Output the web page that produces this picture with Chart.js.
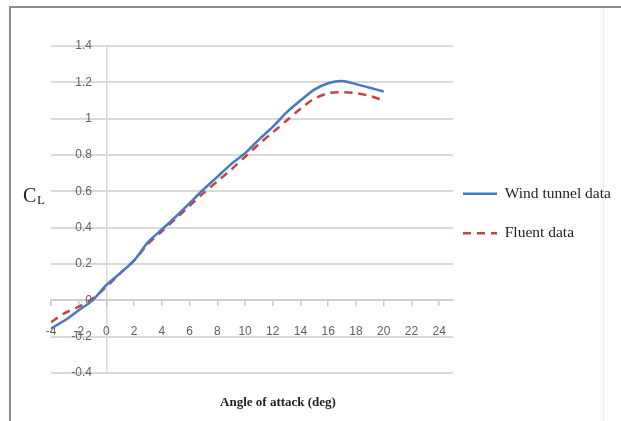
<!DOCTYPE html>
<html><head><meta charset="utf-8">
<script src="https://cdn.jsdelivr.net/npm/chart.js@4"></script>
<style>
html,body{margin:0;padding:0;background:#fff;}
#wrap{position:relative;width:621px;height:421px;overflow:hidden;}
#frame{position:absolute;left:9px;top:6px;width:595px;height:420px;border-left:2px solid #8a8a8a;border-top:2px solid #8a8a8a;border-right:1px solid #ececec;box-sizing:border-box;}
#topline{position:absolute;left:9px;top:6px;width:612px;height:2px;background:#8a8a8a;}
canvas{position:absolute;left:0;top:0;}
</style></head>
<body><div id="wrap"><div id="frame"></div><div id="topline"></div><canvas id="c" width="621" height="421"></canvas></div>
<script>
const angles     = [-4, -3, -2, -1, 0, 1, 2, 3, 4, 5, 6, 7, 8, 9, 10, 11, 12, 13, 14, 15, 16, 17, 18, 19, 20];
const windTunnel = [-0.155, -0.11, -0.055, 0.0, 0.085, 0.15, 0.22, 0.32, 0.39, 0.46, 0.535, 0.61, 0.68, 0.75, 0.81, 0.885, 0.955, 1.035, 1.10, 1.16, 1.195, 1.207, 1.19, 1.17, 1.15];
const fluent     = [-0.12, -0.07, -0.035, 0.01, 0.075, 0.15, 0.22, 0.31, 0.38, 0.45, 0.52, 0.59, 0.655, 0.72, 0.79, 0.86, 0.925, 0.99, 1.055, 1.11, 1.14, 1.146, 1.14, 1.125, 1.10];
const xTicks = [-4, -2, 0, 2, 4, 6, 8, 10, 12, 14, 16, 18, 20, 22, 24];
const yTicks = [-0.4, -0.2, 0, 0.2, 0.4, 0.6, 0.8, 1, 1.2, 1.4];
const seriesNames = ['Wind tunnel data', 'Fluent data'];
const xTitle = 'Angle of attack (deg)';
const yTitleMain = 'C';
const yTitleSub = 'L';

const toPts = arr => angles.map((a, i) => ({x: a, y: arr[i]}));

const legendShift = {
  id: 'legendShift',
  afterLayout(chart) {
    const lg = chart.legend;
    lg.left -= 14;
    lg.right = chart.width;
    lg.width = lg.right - lg.left;
    lg.top += 4; lg.bottom += 4;
  }
};

const axisTitles = {
  id: 'axisTitles',
  afterDraw(chart) {
    const ctx = chart.ctx;
    ctx.save();
    ctx.fillStyle = '#222';
    ctx.textBaseline = 'alphabetic';
    ctx.textAlign = 'left';
    ctx.font = '20px "Liberation Serif"';
    ctx.fillText(yTitleMain, 23, 202);
    ctx.font = '13px "Liberation Serif"';
    ctx.fillText(yTitleSub, 37, 204);
    ctx.font = 'bold 13px "Liberation Serif"';
    ctx.textAlign = 'center';
    ctx.textBaseline = 'middle';
    ctx.fillText(xTitle, 278, 403);
    ctx.restore();
  }
};

new Chart(document.getElementById('c'), {
  type: 'line',
  data: {
    datasets: [
      {label: seriesNames[0], data: toPts(windTunnel), borderColor: '#4579c4', backgroundColor: '#4579c4', borderWidth: 2.5, pointRadius: 0, tension: 0.3, fill: false},
      {label: seriesNames[1], data: toPts(fluent), borderColor: '#c4443f', backgroundColor: '#c4443f', borderWidth: 2.5, borderDash: [8, 6], pointRadius: 0, tension: 0.3, fill: false}
    ]
  },
  options: {
    responsive: false,
    devicePixelRatio: 1,
    animation: false,
    layout: {padding: {left: 51, top: 46, right: 0, bottom: 48}},
    scales: {
      x: {
        type: 'linear', min: -4, max: 25,
        position: {y: 0},
        afterBuildTicks: s => { s.ticks = xTicks.map(v => ({value: v})); },
        grid: {drawOnChartArea: true, drawTicks: true, tickLength: 5, tickColor: '#c8c8c8', tickWidth: 1.5,
          color: c => (c.tick && c.tick.value === 0) ? '#d9d9d9' : 'rgba(0,0,0,0)', lineWidth: 1.5},
        border: {display: true, color: '#cfcfcf', width: 2},
        ticks: {padding: 19, font: {family: 'Liberation Sans', size: 12}, color: '#606060', maxRotation: 0, autoSkip: false}
      },
      y: {
        type: 'linear', min: -0.4, max: 1.4,
        position: {x: -1.05},
        afterBuildTicks: s => { s.ticks = yTicks.map(v => ({value: v})); },
        grid: {color: '#d9d9d9', lineWidth: 2, drawTicks: false},
        border: {display: false},
        ticks: {font: {family: 'Liberation Sans', size: 12}, color: '#606060',
          callback: v => String(Number(v.toFixed(1)))}
      }
    },
    plugins: {
      legend: {
        position: 'right', align: 'center', maxWidth: 168,
        labels: {usePointStyle: true, pointStyle: 'line', pointStyleWidth: 34, padding: 24,
          font: {family: 'Liberation Serif', size: 15.5}, color: '#1e1e1e',
          generateLabels(chart) {
            const items = Chart.defaults.plugins.legend.labels.generateLabels(chart);
            items.forEach(it => {
              const ds = chart.data.datasets[it.datasetIndex];
              it.lineDash = ds.borderDash || [];
              it.lineWidth = ds.borderWidth;
              it.strokeStyle = ds.borderColor;
              it.pointStyle = 'line';
            });
            return items;
          }}
      },
      tooltip: {enabled: false}
    }
  },
  plugins: [legendShift, axisTitles]
});
</script>
</body></html>
